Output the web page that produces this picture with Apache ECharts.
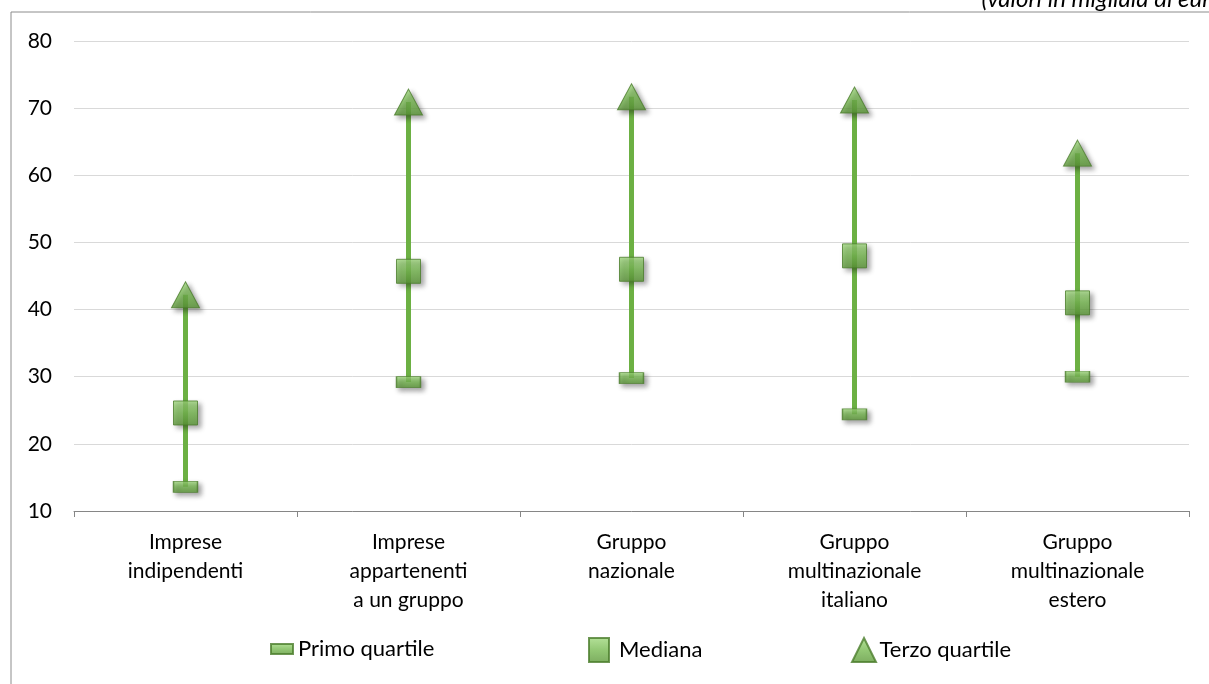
<!DOCTYPE html>
<html>
<head>
<meta charset="utf-8">
<script src="https://cdn.jsdelivr.net/npm/echarts@6/dist/echarts.min.js"></script>
<style>html,body{margin:0;padding:0;background:#fff}#c{width:1209px;height:684px}</style>
</head>
<body>
<div id="c"></div>
<script>
const categories = ['Imprese\nindipendenti', 'Imprese\nappartenenti\na un gruppo', 'Gruppo\nnazionale', 'Gruppo\nmultinazionale\nitaliano', 'Gruppo\nmultinazionale\nestero'];
const primoQuartile = [13.6, 29.2, 29.8, 24.4, 30.0];
const mediana = [24.6, 45.7, 46.0, 48.0, 41.0];
const terzoQuartile = [42.2, 70.9, 71.7, 71.2, 63.3];
const yTicks = [10, 20, 30, 40, 50, 60, 70, 80];

const FONT = 'Lato';
const green = new echarts.graphic.LinearGradient(0, 0, 0, 1, [
  {offset: 0, color: '#a2da80'},
  {offset: 0.5, color: '#78ba52'},
  {offset: 1, color: '#5c9838'}
]);
const markerStyle = {
  color: green,
  borderColor: '#4b7d2c',
  borderWidth: 1,
  shadowBlur: 5,
  shadowOffsetX: 3,
  shadowOffsetY: 3,
  shadowColor: 'rgba(0,0,0,0.45)'
};
const triPath = 'path://M50,0 L100,100 L0,100 Z';
const legText = {fontSize: 22, lineHeight: 24, fontFamily: FONT, color: '#000'};

const chart = echarts.init(document.getElementById('c'));
chart.setOption({
  animation: false,
  backgroundColor: '#fff',
  textStyle: {fontFamily: FONT, color: '#000'},
  grid: {left: 74, right: 20, top: 41, bottom: 173},
  graphic: [
    {type: 'line', shape: {x1: 11, y1: 12, x2: 1209, y2: 12}, style: {stroke: '#8c8c8c', lineWidth: 1}},
    {type: 'line', shape: {x1: 11, y1: 12, x2: 11, y2: 684}, style: {stroke: '#8c8c8c', lineWidth: 1}},
    {type: 'text', right: -19, top: -13, style: {text: '(valori in migliaia di euro)', font: 'italic 24px ' + FONT, fill: '#000'}}
  ],
  xAxis: {
    type: 'category',
    data: categories,
    boundaryGap: true,
    axisLine: {lineStyle: {color: '#868686'}},
    axisTick: {show: true, length: 6, lineStyle: {color: '#868686'}},
    axisLabel: {fontSize: 21, lineHeight: 29, margin: 17, color: '#000', fontFamily: FONT, interval: 0}
  },
  yAxis: {
    type: 'value',
    min: yTicks[0],
    max: yTicks[yTicks.length - 1],
    interval: 10,
    axisLine: {show: false},
    axisTick: {show: false},
    splitLine: {lineStyle: {color: '#d9d9d9'}},
    axisLabel: {fontSize: 21, margin: 22, color: '#000', fontFamily: FONT}
  },
  legend: [
    {data: [{name: 'Primo quartile', icon: 'rect'}], left: 270, top: 637, padding: 0, itemWidth: 22, itemHeight: 10, itemGap: 5, textStyle: Object.assign({}, legText, {padding: [0, 0, 0, 0]})},
    {data: [{name: 'Mediana', icon: 'rect'}], left: 588, top: 637, padding: 0, itemWidth: 20, itemHeight: 24, textStyle: Object.assign({}, legText, {padding: [0, 0, 0, 5]})},
    {data: [{name: 'Terzo quartile', icon: triPath}], left: 851, top: 637, padding: 0, itemWidth: 27, itemHeight: 24, textStyle: Object.assign({}, legText, {padding: [0, 0, 0, -3]})}
  ],
  series: [
    {
      name: 'range',
      type: 'custom',
      z: 1,
      silent: true,
      data: primoQuartile.map((v, i) => [i, v, terzoQuartile[i]]),
      encode: {x: 0, y: [1, 2]},
      renderItem: function (params, api) {
        const p1 = api.coord([api.value(0), api.value(1)]);
        const p2 = api.coord([api.value(0), api.value(2)]);
        return {type: 'line', shape: {x1: p1[0], y1: p1[1], x2: p2[0], y2: p2[1]}, style: {stroke: '#6cb043', lineWidth: 5}};
      }
    },
    {name: 'Primo quartile', type: 'scatter', z: 3, symbol: 'rect', symbolSize: [24, 11], data: primoQuartile, itemStyle: markerStyle},
    {name: 'Mediana', type: 'scatter', z: 3, symbol: 'rect', symbolSize: [24, 24], data: mediana, itemStyle: markerStyle},
    {name: 'Terzo quartile', type: 'scatter', z: 3, symbol: triPath, symbolSize: [28, 26], data: terzoQuartile, itemStyle: markerStyle}
  ]
});
</script>
</body>
</html>
